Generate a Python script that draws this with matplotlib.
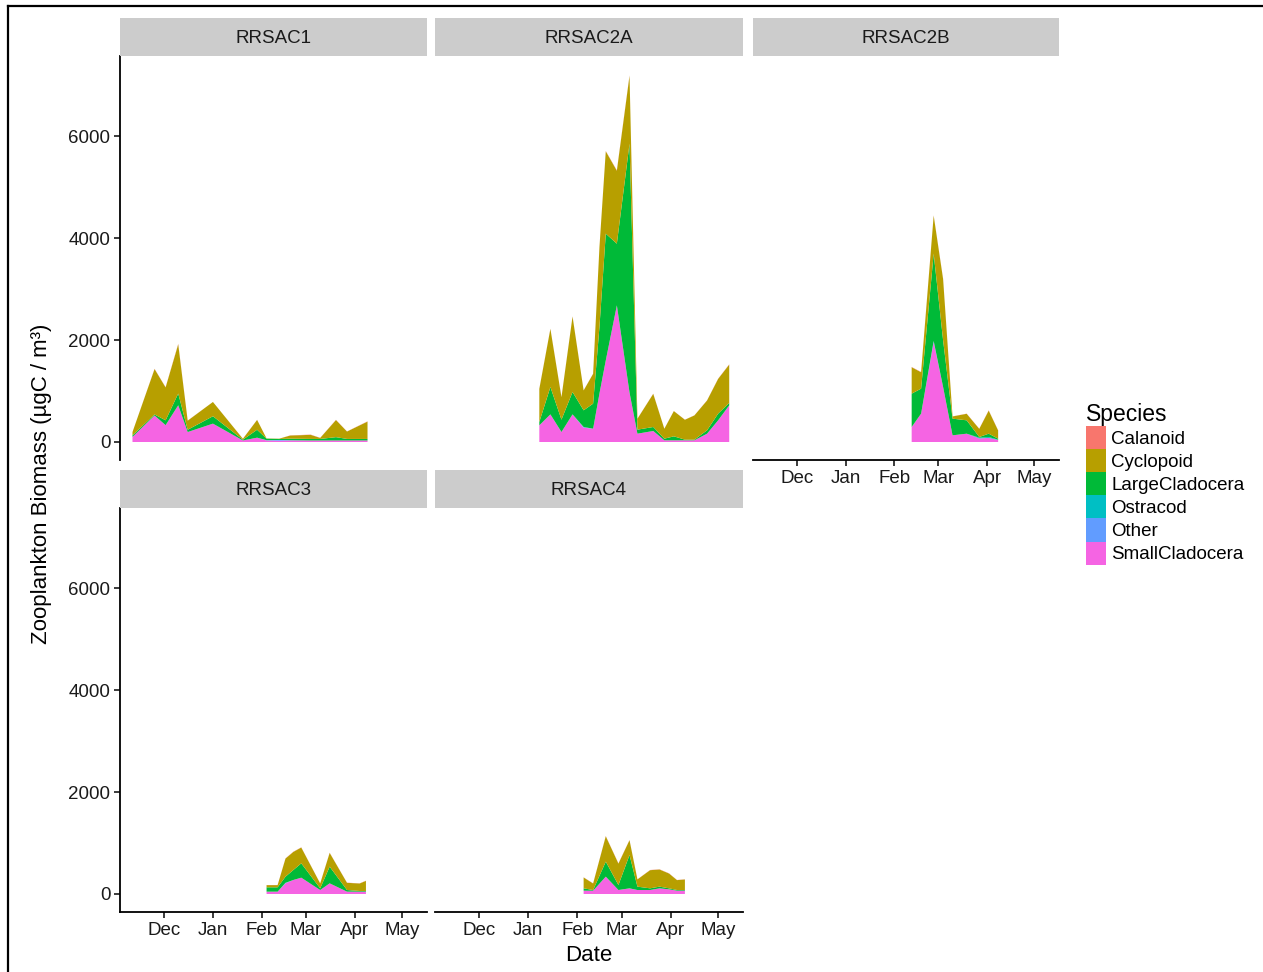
import numpy as np
import pandas as pd
import matplotlib
matplotlib.use("Agg")
import matplotlib.pyplot as plt
import matplotlib.dates as mdates
from matplotlib.patches import Patch
from matplotlib.lines import Line2D

plt.rcParams['font.family'] = ['Liberation Sans', 'DejaVu Sans']

# species (stack order: first one ends up on top, like ggplot)
species = ["Calanoid", "Cyclopoid", "LargeCladocera", "Ostracod", "Other", "SmallCladocera"]
colors = ["#F8766D", "#B79F00", "#00BA38", "#00BFC4", "#619CFF", "#F564E3"]
sites = ["RRSAC1", "RRSAC2A", "RRSAC2B", "RRSAC3", "RRSAC4"]

# ---- RRSAC1 ----
d1 = ["2014-11-11", "2014-11-25", "2014-12-02", "2014-12-10", "2014-12-16", "2015-01-01",
      "2015-01-20", "2015-01-29", "2015-02-04", "2015-02-12", "2015-02-19", "2015-03-04",
      "2015-03-10", "2015-03-20", "2015-03-27", "2015-04-09"]
small1 = [100, 520, 330, 720, 195, 360, 30, 85, 30, 25, 30, 30, 30, 30, 30, 30]
other1 = [0, 0, 0, 0, 0, 0, 0, 0, 5, 15, 5, 0, 0, 0, 0, 0]
ostra1 = [0, 0, 0, 0, 0, 0, 0, 0, 0, 0, 0, 0, 0, 0, 0, 0]
large1 = [30, 20, 95, 230, 45, 145, 15, 155, 30, 20, 30, 30, 30, 65, 30, 30]
cyclo1 = [65, 890, 645, 965, 178, 280, 18, 193, 5, 5, 62, 80, 20, 335, 145, 340]
calan1 = [0, 5, 5, 10, 3, 0, 2, 2, 0, 0, 3, 5, 2, 5, 2, 5]

# ---- RRSAC2A ----
d2 = ["2015-01-08", "2015-01-15", "2015-01-22", "2015-01-29", "2015-02-05", "2015-02-11",
      "2015-02-15", "2015-02-19", "2015-02-26", "2015-03-06", "2015-03-11", "2015-03-21",
      "2015-03-28", "2015-04-03", "2015-04-10", "2015-04-16", "2015-04-24", "2015-05-01",
      "2015-05-08"]
small2 = [327, 542, 196, 542, 280, 261, 950, 1600, 2680, 970, 163, 216, 33, 33, 33, 33, 163, 425, 719]
other2 = [0, 0, 0, 0, 14, 0, 0, 0, 0, 0, 0, 0, 0, 0, 0, 0, 0, 0, 0]
ostra2 = [0, 0, 0, 0, 0, 0, 0, 0, 0, 0, 0, 0, 0, 0, 0, 0, 0, 0, 0]
large2 = [65, 536, 242, 438, 327, 491, 1305, 2485, 1209, 4880, 79, 78, 32, 78, 13, 13, 66, 131, 46]
cyclo2 = [650, 1140, 440, 1480, 390, 585, 1565, 1615, 1430, 1330, 214, 650, 194, 495, 390, 475, 585, 682, 752]
calan2 = [4, 4, 4, 4, 2, 3, 4, 6, 8, 10, 2, 4, 2, 2, 2, 2, 3, 4, 6]

# ---- RRSAC2B ----
d3 = ["2015-02-12", "2015-02-18", "2015-02-26", "2015-03-04", "2015-03-10", "2015-03-19",
      "2015-03-27", "2015-04-02", "2015-04-08"]
small3 = [294, 556, 1961, 1078, 131, 163, 70, 80, 40]
other3 = [0, 0, 20, 0, 0, 0, 0, 0, 0]
ostra3 = [0, 0, 0, 0, 0, 0, 15, 18, 6]
large3 = [654, 490, 1712, 915, 327, 262, 13, 65, 19]
cyclo3 = [518, 322, 745, 1200, 43, 128, 160, 452, 161]
calan3 = [5, 5, 6, 7, 2, 3, 3, 6, 3]

# ---- RRSAC3 ----
d4 = ["2015-02-04", "2015-02-11", "2015-02-16", "2015-02-21", "2015-02-26", "2015-03-10",
      "2015-03-16", "2015-03-27", "2015-04-04", "2015-04-08"]
small4 = [46, 46, 209, 275, 320, 78, 209, 46, 46, 46]
other4 = [0, 0, 10, 0, 0, 0, 0, 0, 0, 0]
ostra4 = [0, 0, 0, 0, 0, 0, 0, 0, 0, 0]
large4 = [85, 85, 121, 196, 281, 33, 327, 32, 13, 13]
cyclo4 = [43, 43, 355, 355, 310, 96, 270, 141, 147, 198]
calan4 = [2, 2, 4, 4, 4, 2, 4, 3, 3, 4]

# ---- RRSAC4 ----
d5 = ["2015-02-05", "2015-02-11", "2015-02-19", "2015-02-27", "2015-03-06", "2015-03-11",
      "2015-03-19", "2015-03-25", "2015-03-31", "2015-04-05", "2015-04-10"]
small5 = [65, 65, 340, 78, 111, 78, 78, 111, 91, 65, 65]
other5 = [0, 0, 0, 0, 0, 0, 0, 0, 0, 0, 0]
ostra5 = [0, 0, 0, 0, 0, 0, 0, 0, 0, 0, 0]
large5 = [46, 13, 294, 98, 654, 66, 33, 33, 20, 13, 13]
cyclo5 = [213, 128, 498, 420, 290, 142, 356, 336, 290, 194, 207]
calan5 = [3, 3, 5, 5, 4, 2, 4, 4, 4, 3, 3]

site_dates = [d1, d2, d3, d4, d5]
site_layers = [
    [small1, other1, ostra1, large1, cyclo1, calan1],
    [small2, other2, ostra2, large2, cyclo2, calan2],
    [small3, other3, ostra3, large3, cyclo3, calan3],
    [small4, other4, ostra4, large4, cyclo4, calan4],
    [small5, other5, ostra5, large5, cyclo5, calan5],
]
# bottom-up colours: SmallCladocera, Other, Ostracod, LargeCladocera, Cyclopoid, Calanoid
stack_colors = colors[::-1]

W, H = 1263, 972
fig = plt.figure(figsize=(W / 100, H / 100), dpi=100)


def rect(x0, y0, x1, y1):
    return [x0 / W, 1 - y1 / H, (x1 - x0) / W, (y1 - y0) / H]


cols = [(120, 427), (435, 743), (753, 1059)]
rows = [(18, 56, 460), (470, 508, 912)]
positions = [(0, 0), (0, 1), (0, 2), (1, 0), (1, 1)]

xmin = pd.Timestamp("2014-11-03 02:00")
xmax = pd.Timestamp("2015-05-16 17:00")
month_ticks = pd.to_datetime(["2014-12-01", "2015-01-01", "2015-02-01",
                              "2015-03-01", "2015-04-01", "2015-05-01"])

for k, site in enumerate(sites):
    r, c = positions[k]
    x0, x1 = cols[c]
    st, top, bot = rows[r]
    ax = fig.add_axes(rect(x0, top, x1, bot))
    dates = pd.to_datetime(site_dates[k])
    ax.stackplot(dates, *site_layers[k], colors=stack_colors, linewidth=0)
    ax.set_xlim(xmin, xmax)
    ax.set_ylim(-353, 7569)
    for s in ax.spines.values():
        s.set_visible(False)
    ax.set_xticks(month_ticks)
    ax.xaxis.set_major_formatter(mdates.DateFormatter("%b"))
    ax.set_yticks([0, 2000, 4000, 6000])
    ax.tick_params(labelsize=13.5, colors="#1a1a1a", length=4, width=1.2, pad=3)
    show_x = (r == 1) or (k == 2)
    show_y = (c == 0)
    if show_x:
        ax.spines["bottom"].set_visible(True)
        ax.spines["bottom"].set_linewidth(1.3)
    else:
        ax.tick_params(axis="x", bottom=False, labelbottom=False)
    if show_y:
        ax.spines["left"].set_visible(True)
        ax.spines["left"].set_linewidth(1.3)
    else:
        ax.tick_params(axis="y", left=False, labelleft=False)
    ax.patch.set_alpha(0)

    # facet strip
    sax = fig.add_axes(rect(x0, st, x1, top))
    sax.set_facecolor("#CCCCCC")
    sax.set_xticks([])
    sax.set_yticks([])
    for s in sax.spines.values():
        s.set_visible(False)
    sax.text(0.5, 0.46, site, ha="center", va="center", fontsize=13.5, color="#1a1a1a",
             transform=sax.transAxes)

fig.text(42 / W, 1 - 484 / H, "Zooplankton Biomass (µgC / m³)", rotation=90,
         ha="center", va="center", fontsize=16)
fig.text(589 / W, 1 - 955 / H, "Date", ha="center", va="center", fontsize=16)

handles = [Patch(facecolor=col, edgecolor="none") for col in colors]
leg = fig.legend(handles, species, title="Species", loc="upper left",
                 bbox_to_anchor=(1086 / W, 1 - 403 / H), frameon=False,
                 fontsize=13.5, title_fontsize=16.5, borderpad=0, borderaxespad=0,
                 handlelength=1.05, handleheight=1.52, handletextpad=0.3,
                 labelspacing=0.0, alignment="left")

# black frame on left and top edge
fig.add_artist(Line2D([8 / W, 1], [1 - 6 / H, 1 - 6 / H], color="black", lw=1.6,
                      transform=fig.transFigure))
fig.add_artist(Line2D([8 / W, 8 / W], [0, 1 - 6 / H], color="black", lw=1.6,
                      transform=fig.transFigure))

fig.savefig("out.png", dpi=100)
